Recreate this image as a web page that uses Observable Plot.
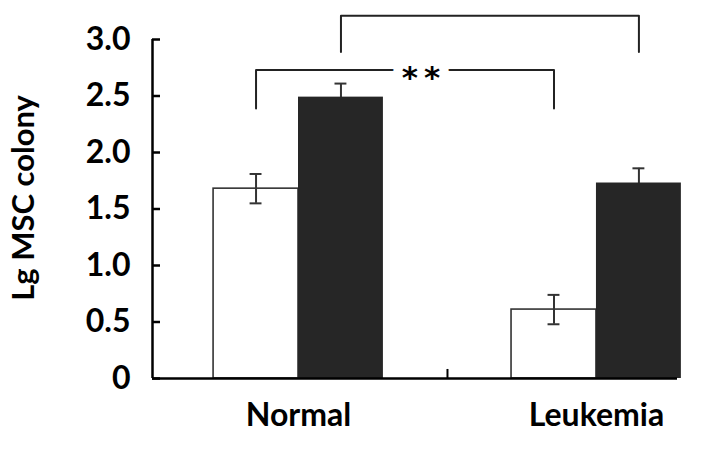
<!DOCTYPE html>
<html><head><meta charset="utf-8">
<script src="https://cdn.jsdelivr.net/npm/d3@7"></script>
<script src="https://cdn.jsdelivr.net/npm/@observablehq/plot@0.6"></script>
<style>html,body{margin:0;padding:0;background:#fff}</style>
</head><body><div id="chart"></div>
<script>
// ---- data ----
const groups = ["Normal", "Leukemia"];
const seriesNames = ["open", "filled"];
const valuesOpen = [1.68, 0.61];
const valuesFilled = [2.49, 1.73];
const errorsOpen = [0.13, 0.13];
const errorsFilled = [0.12, 0.13];
const yTicks = [0, 0.5, 1.0, 1.5, 2.0, 2.5, 3.0];
const yTickLabels = ["0", "0.5", "1.0", "1.5", "2.0", "2.5", "3.0"];
const yTitle = "Lg MSC colony";
const bracketSeries = [0, 1];      // series joined across the two groups
const bracketTop = [2.73, 3.21];
const bracketEnd = [2.39, 2.89];
const bracketLabels = ["**", ""];

// ---- layout / style ----
const barW = 0.285;           // bar width, in group units
const capHalf = 0.02;
const xDomain = [-0.49, 1.272];

const rows = [];
groups.forEach((g, gi) => {
  rows.push({group: g, gi, s: 0, value: valuesOpen[gi], err: errorsOpen[gi]});
  rows.push({group: g, gi, s: 1, value: valuesFilled[gi], err: errorsFilled[gi]});
});
rows.forEach(d => { d.x1 = d.gi + (d.s - 1) * barW; d.x2 = d.x1 + barW; d.xc = (d.x1 + d.x2) / 2; });
const openRows = rows.filter(d => d.s === 0);
const filledRows = rows.filter(d => d.s === 1);

const bracketPts = [];
const bracketText = [];
bracketSeries.forEach((s, i) => {
  const xa = 0 + (s - 0.5) * barW, xb = 1 + (s - 0.5) * barW;
  [[xa, bracketEnd[i]], [xa, bracketTop[i]], [xb, bracketTop[i]], [xb, bracketEnd[i]]]
    .forEach(([x, y]) => bracketPts.push({b: i, x, y}));
  if (bracketLabels[i]) bracketText.push({x: (xa + xb) / 2, y: bracketTop[i], t: bracketLabels[i]});
});

const errMarks = (data) => [
  Plot.ruleX(data, {x: "xc", y1: d => d.value - d.err, y2: d => d.value + d.err, stroke: "#333", strokeWidth: 2}),
  Plot.ruleY(data, {y: d => d.value + d.err, x1: d => d.xc - capHalf, x2: d => d.xc + capHalf, stroke: "#333", strokeWidth: 2}),
  Plot.ruleY(data, {y: d => d.value - d.err, x1: d => d.xc - capHalf, x2: d => d.xc + capHalf, stroke: "#333", strokeWidth: 2})
];

const chart = Plot.plot({
  width: 704, height: 453,
  marginLeft: 152, marginRight: 27, marginTop: 39, marginBottom: 75,
  style: {fontFamily: "Lato, sans-serif", fontSize: "32px", fontWeight: "bold", color: "#000", background: "#fff"},
  x: {domain: xDomain},
  y: {domain: [0, 3]},
  marks: [
    ...errMarks(filledRows),
    Plot.rect(openRows, {x1: "x1", x2: "x2", y1: 0, y2: "value", fill: "white", stroke: "#333", strokeWidth: 1.6}),
    Plot.rect(filledRows, {x1: "x1", x2: "x2", y1: 0, y2: "value", fill: "#262626"}),
    ...errMarks(openRows),
    Plot.line(bracketPts, {x: "x", y: "y", z: "b", stroke: "#222", strokeWidth: 2}),
    Plot.text(bracketText, {x: "x", y: "y", text: d => d.t.split("").join("\u2009"), dx: 16, dy: 8, fill: "#000", stroke: "white", strokeWidth: 18, fontSize: 31, fontFamily: "DejaVu Sans", fontWeight: "bold"}),
    Plot.ruleY([0], {stroke: "#000", strokeWidth: 2.5}),
    Plot.ruleX([xDomain[0]], {y1: 0, y2: 3, stroke: "#000", strokeWidth: 2.5}),
    Plot.ruleX([0.5], {y1: 0, y2: 0.08, stroke: "#000", strokeWidth: 2}),
    Plot.axisY({ticks: yTicks, tickFormat: d => yTickLabels[yTicks.indexOf(d)], tickSize: -8, tickPadding: 30, strokeWidth: 2.5, label: null}),
    Plot.axisX({ticks: [0, 1], tickFormat: i => groups[i], tickSize: 0, tickPadding: 25, label: null}),
    Plot.text([yTitle], {frameAnchor: "left", textAnchor: "middle", rotate: -90, dx: -128, dy: -11, fontSize: 31})
  ]
});
document.getElementById("chart").appendChild(chart);
</script>
</body></html>
